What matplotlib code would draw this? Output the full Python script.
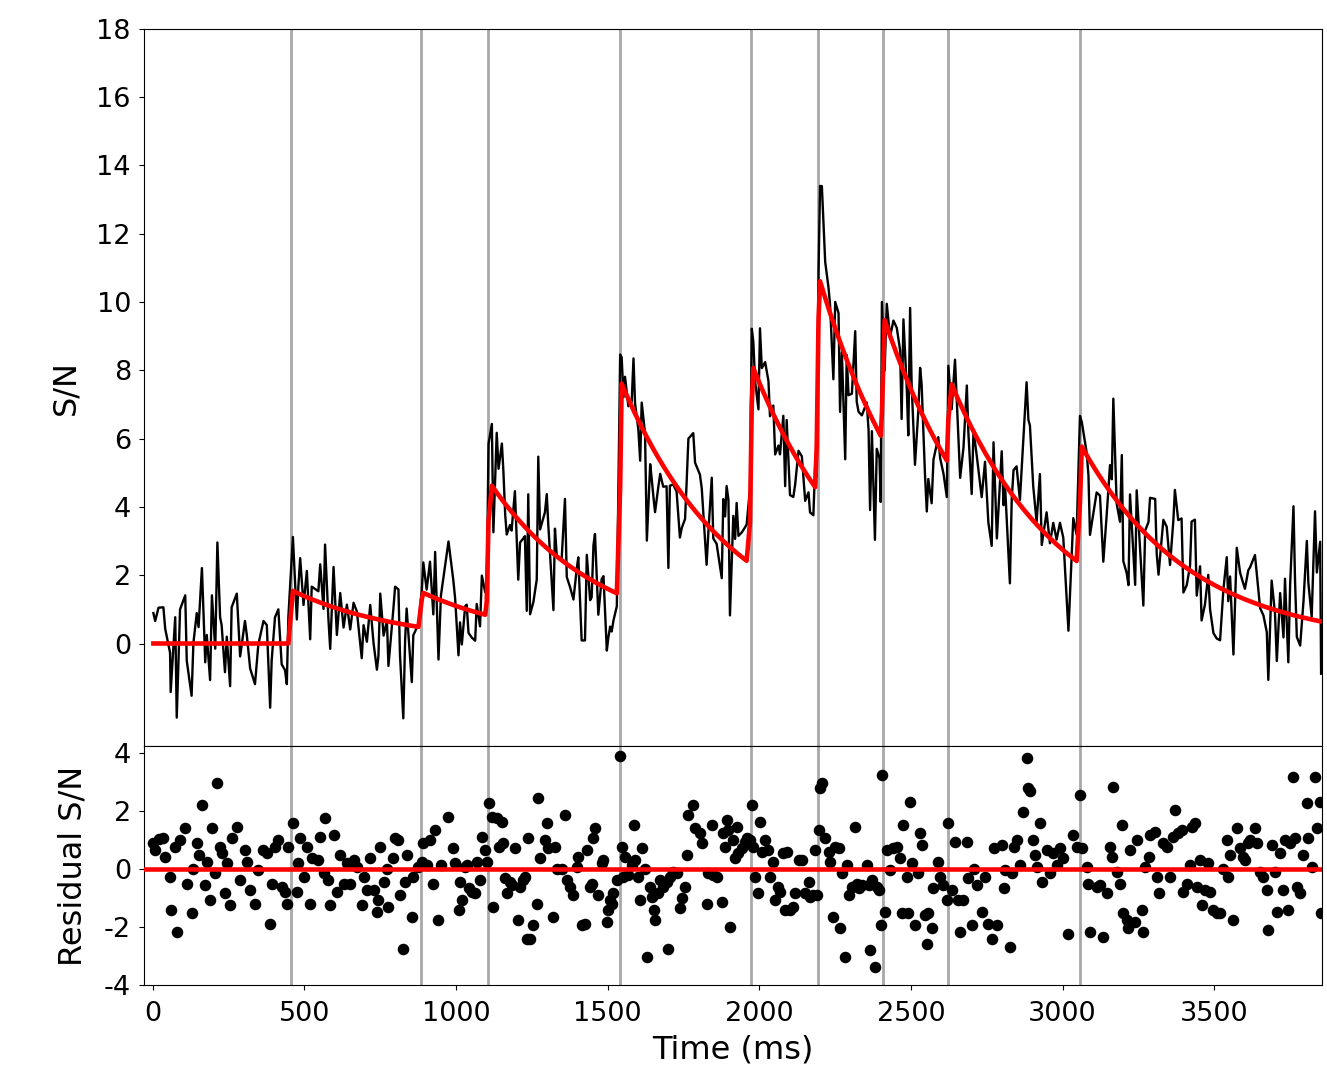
import numpy as np
import matplotlib
matplotlib.use("Agg")
import matplotlib.pyplot as plt

plt.rcParams['axes.unicode_minus'] = False
plt.rcParams['font.family'] = ['DejaVu Sans']

# ---- data ----
burst_times = [455, 884, 1105, 1541, 1972, 2192, 2407, 2623, 3057]
burst_amps = [1.57, 1.04, 3.97, 6.29, 5.92, 6.37, 3.66, 2.54, 3.52]
decay_ms = 360.0
bin_ms = 10.0

resid_t = [
    2, 8, 19, 35, 41, 57, 59, 74, 79, 90, 107, 112, 128, 134, 145, 151, 162, 173, 178, 189,
    195, 206, 213, 222, 227, 238, 244, 255, 260, 277, 288, 304, 310, 321, 337, 348, 365, 376, 387, 392,
    403, 414, 425, 436, 442, 447, 462, 475, 480, 486, 497, 508, 519, 524, 546, 552, 563, 568, 579, 585,
    596, 607, 618, 629, 640, 651, 662, 673, 689, 695, 706, 717, 728, 739, 744, 750, 761, 772, 777, 793,
    799, 810, 815, 826, 832, 837, 854, 859, 876, 887, 892, 903, 914, 925, 931, 942,
    950, 975, 991, 997, 1008, 1013, 1019, 1030, 1035, 1041, 1052, 1063, 1068, 1079, 1085, 1096, 1101, 1107,
    1118, 1123, 1134, 1140, 1151, 1156, 1162, 1167, 1178, 1183, 1194, 1205, 1211, 1222, 1227, 1233, 1238,
    1244, 1255, 1266, 1271, 1277, 1293, 1299, 1304, 1321, 1326, 1332, 1348, 1359, 1365, 1376, 1387, 1398,
    1403, 1414, 1425, 1431, 1442, 1447, 1453, 1458, 1469, 1480, 1486, 1497, 1502, 1508, 1513, 1519, 1530,
    1541, 1546, 1552, 1557, 1568, 1579, 1585, 1590, 1601, 1607, 1612, 1623, 1629, 1640, 1645, 1651, 1656,
    1667, 1673, 1683, 1694, 1700, 1705, 1716, 1727, 1738, 1744, 1755, 1760, 1766, 1782, 1788, 1804, 1810,
    1826, 1832, 1843, 1848, 1859,
    1876, 1881, 1887, 1892, 1898, 1903, 1914, 1920, 1925, 1931, 1942, 1953, 1958, 1969, 1975, 1980, 1986,
    1997, 2002, 2008, 2019, 2030, 2035, 2046, 2052, 2063, 2068, 2079, 2085, 2090, 2101, 2112, 2118, 2129,
    2140, 2151, 2162, 2167, 2178, 2184, 2189, 2195, 2200, 2206, 2217, 2228, 2233, 2244, 2250, 2261, 2266,
    2272, 2283, 2288, 2294, 2305, 2316, 2321, 2327, 2338, 2354, 2360, 2365, 2371, 2381, 2387, 2396, 2400,
    2404, 2413, 2420, 2431, 2442, 2453, 2464, 2469, 2475, 2486, 2491, 2497, 2502, 2513, 2524, 2530, 2535,
    2546, 2552, 2557, 2568, 2574, 2590, 2596, 2607, 2618, 2623, 2634, 2645, 2656, 2662, 2673, 2684, 2689,
    2700, 2706, 2717, 2733, 2744, 2755, 2766, 2772, 2783, 2799, 2805, 2810, 2826,
    2832, 2838, 2848, 2859, 2870, 2881, 2887, 2892, 2903, 2909, 2914, 2925, 2931, 2947, 2958, 2969, 2980,
    2991, 3002, 3019, 3035, 3046, 3057, 3063, 3079, 3085, 3090, 3112, 3123, 3134, 3145, 3156, 3162, 3167,
    3178, 3189, 3195, 3200, 3211, 3217, 3222, 3239, 3244, 3261, 3266, 3272, 3283, 3288, 3305, 3310, 3316,
    3332, 3343, 3354, 3365, 3370, 3381, 3392, 3398, 3409, 3420, 3425, 3436, 3442, 3453, 3458, 3469, 3480,
    3486, 3497, 3508, 3519, 3530, 3541, 3546, 3552, 3563, 3574, 3585, 3596, 3601, 3612, 3618, 3634, 3640,
    3651, 3662, 3673, 3678, 3689, 3700, 3706, 3717, 3728, 3733, 3744, 3750, 3761, 3766, 3772, 3783, 3794,
    3805, 3810, 3821, 3832, 3838, 3849, 3852,
]

resid_v = [
    0.89, 0.66, 1.05, 1.06, 0.43, -0.27, -1.42, 0.77, -2.17, 1.00, 1.41, -0.50, -1.53, 0.02, 0.89, 0.48, 2.21, -0.55, 0.25, -1.07,
    1.41, -0.15, 2.96, 0.77, 0.54, -0.84, 0.20, -1.25, 1.06, 1.46, -0.38, 0.66, 0.25, -0.73, -1.19, -0.03, 0.66, 0.54, -1.88, -0.50,
    0.77, 1.00, -0.61, -0.78, -1.19, 0.77, 1.58, -0.78, 0.20, 1.06, -0.27, 0.77, -1.19, 0.37, 0.31, 1.12, -0.15, 1.75, -0.38, -1.25,
    1.18, -0.78, 0.48, -0.50, 0.20, -0.50, 0.31, 0.08, -1.25, -0.27, -0.73, 0.37, -0.73, -1.48, -1.07, 0.77, -0.44, 0.02, -1.30, 0.37,
    1.06, 1.00, -0.90, -2.75, -0.44, 0.48, -1.65, -0.27, 0.08, 0.25, 0.89, 0.14, 1.00, -0.50, 1.35, -1.76,
    0.14, 1.81, 0.72, 0.20, -1.42, -0.44, -1.07, 0.08, 0.14, -0.67, -0.78, -0.84, 0.25, -0.38, 1.12, 0.66, 0.25, 2.27,
    1.81, -1.30, 1.75, 0.77, 1.64, 0.89, -0.32, -0.84, -0.44, -0.55, 0.72, -1.76, -0.61, -0.38, -0.27, -2.40, 1.06,
    -2.40, -1.94, -1.19, 2.45, 0.37, 1.00, 1.58, 0.72, -1.65, 0.77, 0.02, 0.02, 1.87, -0.38, -0.61, -0.90, 0.08,
    0.43, -1.94, -1.88, 0.66, -0.61, -0.50, 1.06, 1.41, -0.90, 0.20, 0.31, -1.82, -1.42, -1.07, -1.19, -0.84, -0.38,
    3.89, 0.77, -0.27, 0.43, -0.21, 0.14, 1.52, 0.31, -0.27, -1.07, 0.72, 0.02, -3.03, -0.61, -0.96, -1.42, -1.76,
    -0.84, -0.38, -0.61, -0.44, -2.75, -0.27, -0.09, -0.15, -1.36, -1.01, -0.61, 0.48, 1.87, 2.21, 1.41, 1.23, 0.89,
    -1.19, -0.15, 1.52, -0.21, -0.27,
    -1.13, 1.23, 0.77, 1.70, 1.35, -2.00, 1.00, 0.37, 1.46, 0.54, 0.72, 0.95, 1.06, 1.00, 2.21, 0.77, -0.27,
    -0.84, 1.64, 0.60, 1.00, 0.66, -0.27, 0.25, -1.07, -0.61, -0.78, 0.54, -1.42, 0.60, -1.42, -1.30, -0.84, 0.31,
    0.31, -0.84, -0.44, -0.96, -0.90, 0.66, -0.90, 1.35, 2.79, 2.96, 1.06, 0.60, 0.25, -1.65, 0.77, 0.72, -2.05,
    -0.15, -3.03, 0.14, -0.90, -0.61, 1.46, -0.50, -0.67, -0.55, 0.14, -0.55, -2.80, -0.38, -3.38, -0.61, -0.73, -1.94,
    3.25, -1.48, 0.66, -0.03, 0.72, 0.77, 0.37, -1.53, 1.52, -0.27, -1.53, 2.33, 0.20, -1.94, -0.15, 1.23, 0.83,
    -1.59, -2.57, -1.53, -2.05, -0.67, 0.25, -0.27, -0.55, -1.07, 1.58, -0.73, 0.95, -1.07, -2.17, -1.07, 0.95, -0.32,
    -1.94, 0.02, -0.55, -1.48, -0.27, -1.88, -2.40, 0.72, -1.94, 0.83, -0.67, -0.03, -2.69,
    -0.15, 0.77, 1.00, 0.14, 1.98, 3.83, 2.79, 2.68, 1.00, 0.48, 0.08, 1.58, -0.44, 0.66, -0.15, 0.54, 0.14,
    0.72, 0.37, -2.23, 1.18, 0.77, 2.56, 0.72, 0.08, -0.50, -2.17, -0.61, -0.55, -2.34, -0.84, 0.77, 0.43, 2.85,
    -0.09, -0.50, 1.52, -1.53, -1.76, -2.05, 0.66, -1.82, 1.00, -1.42, -2.17, 0.08, 0.43, 1.18, 1.29, -0.27, -0.84,
    0.89, 0.77, -0.27, 1.12, 2.04, 1.23, 1.35, -0.78, -0.50, 0.14, 1.46, 1.58, -0.61, 0.31, -1.25, -0.73, 0.20,
    -0.78, -1.42, -1.53, -1.53, 0.02, 1.00, -0.27, 0.48, -1.76, 1.41, 0.72, 0.43, 0.31, 0.89, 1.00, 1.41, 0.89,
    -0.09, -0.27, -0.73, -2.11, 0.83, -0.09, -1.48, 0.54, -0.73, 1.00, -1.42, 0.89, 3.19, 1.06, -0.61, -0.84, 0.48,
    2.27, 1.06, 0.08, 3.19, 1.41, 2.33, -1.53,
]

x_ticks = [0, 500, 1000, 1500, 2000, 2500, 3000, 3500]
sn_ticks = [0, 2, 4, 6, 8, 10, 12, 14, 16, 18]
res_ticks = [-4, -2, 0, 2, 4]


def model(t):
    t = np.asarray(t, dtype=float)
    out = np.zeros_like(t)
    for tb, a in zip(burst_times, burst_amps):
        frac = np.clip((t - tb) / bin_ms + 0.5, 0.0, 1.0)
        out += a * frac * np.exp(-np.clip(t - tb, 0.0, None) / decay_ms)
    return out


t = np.asarray(resid_t, dtype=float)
res = np.asarray(resid_v, dtype=float)
fit = model(t)
sn = fit + res

fig = plt.figure(figsize=(13.27, 10.69), dpi=100)
gs = fig.add_gridspec(2, 1, height_ratios=[3, 1], hspace=0,
                      left=0.1085, right=0.996, top=0.973, bottom=0.0786)
ax1 = fig.add_subplot(gs[0])
ax2 = fig.add_subplot(gs[1], sharex=ax1)

vcol = '#a8a8a8'
for tb in burst_times:
    ax1.axvline(tb, color=vcol, lw=2.0, zorder=1)
    ax2.axvline(tb, color=vcol, lw=2.0, zorder=1)

ax1.plot(t, sn, color='black', lw=1.7, zorder=2)
ax1.plot(t, fit, color='red', lw=3.3, zorder=3)

ax2.plot(t, res, 'o', color='black', ms=7.3, zorder=2)
ax2.axhline(0, color='red', lw=3.3, zorder=3)

ax1.set_ylim(-3, 18)
ax1.set_yticks(sn_ticks)
ax2.set_ylim(-4, 4.25)
ax2.set_yticks(res_ticks)
ax2.set_xlim(-29, 3854)
ax2.set_xticks(x_ticks)

ax1.tick_params(axis='x', bottom=False, labelbottom=False)
ax1.tick_params(axis='y', labelsize=19.5, length=3.6, pad=5.8)
ax2.tick_params(axis='y', labelsize=19.5, length=3.6, pad=5.8)
ax2.tick_params(axis='x', labelsize=19.5, length=3.6, pad=7.6)

ax1.set_ylabel('S/N', fontsize=23, labelpad=11)
ax2.set_ylabel('Residual S/N', fontsize=23, labelpad=11)
ax2.set_xlabel('Time (ms)', fontsize=23, labelpad=6)

fig.savefig('out.png', dpi=100)
